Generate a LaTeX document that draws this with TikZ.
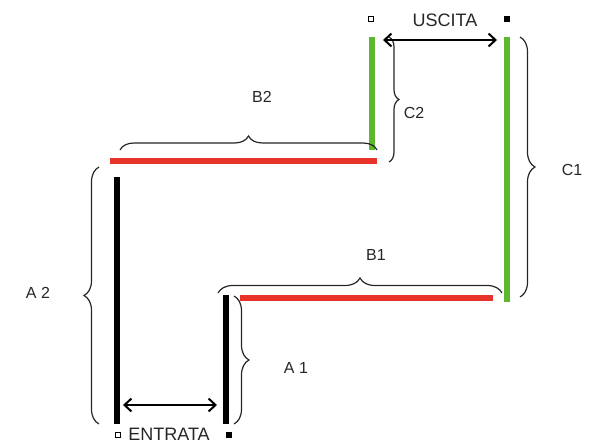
\documentclass[tikz,border=0pt]{standalone}
\usepackage{fontspec}
\setmainfont{Liberation Sans}
\usetikzlibrary{decorations.pathreplacing,arrows.meta}
\definecolor{rd}{HTML}{E8332B}
\definecolor{gr}{HTML}{5BB82F}
\tikzset{
  wall/.style={line width=6pt},
  redwall/.style={line width=6pt,draw=rd},
  greenwall/.style={line width=6pt,draw=gr},
  brc/.style={decorate,decoration={brace,amplitude=#1},line width=1.2pt,draw=black!85},
  lbl/.style={font=\fontsize{16}{16}\selectfont,text=black!85},
  biglbl/.style={font=\fontsize{18}{18}\selectfont,text=black!85,inner sep=0pt},
  dim/.style={line width=2.4pt,{Straight Barb[length=7pt,width=13pt,line width=2pt]}-{Straight Barb[length=7pt,width=13pt,line width=2pt]}},
  hsq/.style={draw,line width=1pt,minimum size=4.5pt,inner sep=0pt},
  fsq/.style={fill,minimum size=5.5pt,inner sep=0pt}
}
\begin{document}
\begin{tikzpicture}[x=1pt,y=1pt]
\useasboundingbox (0,0) rectangle (597,-444);
% walls
\coordinate (a2t) at (117,-177); \coordinate (a2b) at (117,-424);
\coordinate (a1t) at (226,-295); \coordinate (a1b) at (226,-424);
\coordinate (b1l) at (240,-298); \coordinate (b1r) at (493,-298);
\coordinate (c1t) at (507,-37);  \coordinate (c1b) at (507,-302);
\coordinate (b2l) at (110,-161); \coordinate (b2r) at (377,-161);
\coordinate (c2t) at (372,-37);  \coordinate (c2b) at (372,-150);
\draw[wall] (a2t) -- (a2b);
\draw[wall] (a1t) -- (a1b);
\draw[redwall] (b1l) -- (b1r);
\draw[greenwall] (c1t) -- (c1b);
\draw[redwall] (b2l) -- (b2r);
\draw[greenwall] (c2t) -- (c2b);
% braces
\coordinate (bA2s) at (99,-424); \coordinate (bA2e) at (99,-167);
\coordinate (bA1s) at (234,-296); \coordinate (bA1e) at (234,-424);
\coordinate (bB1s) at (218,-293); \coordinate (bB1e) at (502,-293);
\coordinate (bB2s) at (120,-150); \coordinate (bB2e) at (377,-150);
\coordinate (bC1s) at (520,-37); \coordinate (bC1e) at (520,-297);
\coordinate (bC2s) at (389,-37); \coordinate (bC2e) at (389,-162);
\draw[brc=15pt] (bA2s) -- (bA2e);
\draw[brc=15pt] (bA1s) -- (bA1e);
\draw[brc=15pt] (bB1s) -- (bB1e);
\draw[brc=14pt] (bB2s) -- (bB2e);
\draw[brc=15pt] (bC1s) -- (bC1e);
\draw[brc=10pt] (bC2s) -- (bC2e);
% labels
\node[lbl] (lA2) at (38,-293) {A 2};
\node[lbl] (lA1) at (296,-368) {A 1};
\node[lbl] (lB1) at (376,-255) {B1};
\node[lbl] (lB2) at (262,-97) {B2};
\node[lbl] (lC1) at (572,-170) {C1};
\node[lbl] (lC2) at (414,-113) {C2};
% entrance / exit
\node[hsq] (sq1) at (118,-435) {};
\node[fsq] (sq2) at (229,-435) {};
\node[hsq] (sq3) at (371,-19) {};
\node[fsq] (sq4) at (507,-19) {};
\node[biglbl] (ent) at (169,-434) {ENTRATA};
\node[biglbl] (usc) at (445,-20) {USCITA};
\coordinate (e1) at (123,-405); \coordinate (e2) at (217,-405);
\coordinate (u1) at (383,-40); \coordinate (u2) at (497,-40);
\draw[dim] (e1) -- (e2);
\draw[dim] (u1) -- (u2);
\end{tikzpicture}
\end{document}
